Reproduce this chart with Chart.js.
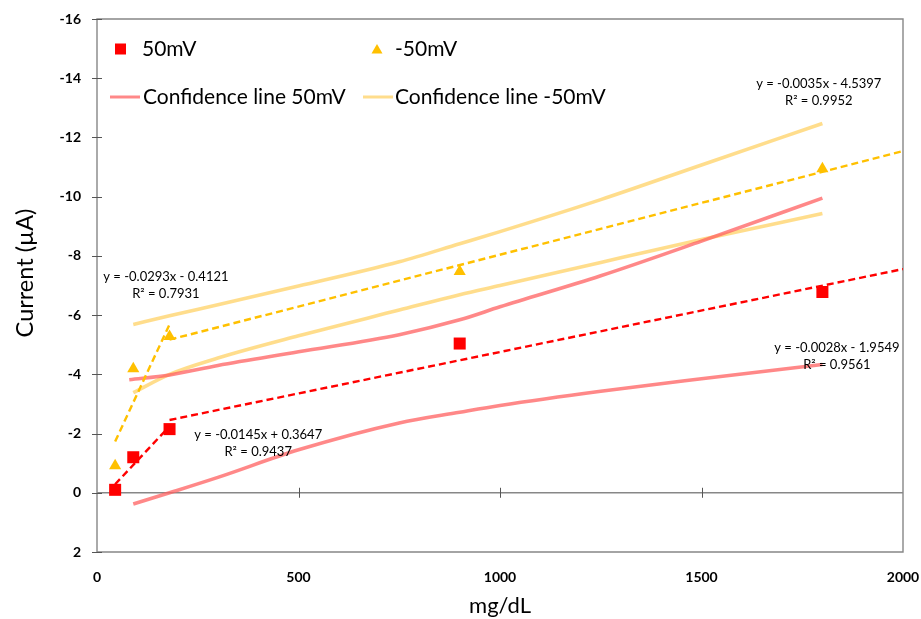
<!DOCTYPE html>
<html>
<head>
<meta charset="utf-8">
<title>Current vs concentration</title>
<script src="https://cdn.jsdelivr.net/npm/chart.js@4/dist/chart.umd.min.js"></script>
<style>
  html, body { margin: 0; padding: 0; background: #ffffff; }
  #wrap { width: 921px; height: 619px; }
</style>
</head>
<body>
<div id="wrap"><canvas id="chart" width="921" height="619"></canvas></div>
<script>
// Measured concentrations (mg/dL) and currents (µA)
const concentrations = [45, 90, 180, 900, 1800];
const current50mV = [-0.10, -1.20, -2.15, -5.04, -6.78];
const currentMinus50mV = [-0.91, -4.19, -5.28, -7.47, -10.94];

// Piecewise linear fits: [slope, intercept, R², x from, x to]
const fits50mV = [
  [-0.0145, 0.3647, 0.9437, 45, 180],
  [-0.0028, -1.9549, 0.9561, 180, 2000]
];
const fitsMinus50mV = [
  [-0.0293, -0.4121, 0.7931, 45, 180],
  [-0.0035, -4.5397, 0.9952, 180, 2000]
];

// Confidence bands
const bandX50Upper = [80, 180, 300, 500, 750, 900, 1000, 1250, 1500, 1800];
const band50Upper = [-3.82, -3.98, -4.30, -4.76, -5.34, -5.84, -6.28, -7.33, -8.50, -9.95];
const bandX50Lower = [90, 180, 300, 500, 750, 900, 1000, 1250, 1500, 1800];
const band50Lower = [0.38, 0.00, -0.52, -1.45, -2.36, -2.72, -2.95, -3.43, -3.85, -4.33];
const bandXm50 = [90, 180, 300, 500, 750, 900, 1000, 1250, 1500, 1800];
const bandM50Upper = [-5.68, -5.98, -6.35, -6.98, -7.80, -8.41, -8.82, -9.90, -11.07, -12.47];
const bandM50Lower = [-3.38, -4.00, -4.55, -5.30, -6.17, -6.69, -7.00, -7.78, -8.55, -9.43];

// Axis ticks
const xTicks = [0, 500, 1000, 1500, 2000];
const yTicks = [-16, -14, -12, -10, -8, -6, -4, -2, 0, 2];

const legendLabels = ['50mV', '-50mV', 'Confidence line 50mV', 'Confidence line -50mV'];
const xTitle = 'mg/dL';
const yTitle = 'Current (µA)';

const FONT = 'Lato, "Open Sans", sans-serif';
const RED = '#ff0000';
const GOLD = '#ffc000';
const PINK = 'rgba(255, 96, 96, 0.75)';
const SAND = 'rgba(255, 208, 96, 0.72)';
const FRAME = '#878787';

const pts = (xs, ys) => xs.map((x, i) => ({ x: x, y: ys[i] }));
const fitLine = f => [{ x: f[3], y: f[0] * f[3] + f[1] }, { x: f[4], y: f[0] * f[4] + f[1] }];
const fmt = (v, d) => (v < 0 ? '-' : '') + Math.abs(v).toFixed(d);
const eqText = f => 'y = ' + fmt(f[0], 4) + 'x ' + (f[1] < 0 ? '- ' : '+ ') + Math.abs(f[1]).toFixed(4);
const r2Text = f => 'R\u00b2 = ' + f[2].toFixed(4);

const trendStyle = color => ({
  showLine: true, borderColor: color, borderWidth: 2.4, borderDash: [7, 4],
  pointRadius: 0, fill: false, tension: 0
});
const bandStyle = color => ({
  showLine: true, borderColor: color, borderWidth: 3.6, pointRadius: 0,
  fill: false, cubicInterpolationMode: 'monotone'
});

const datasets = [
  { label: legendLabels[0], data: pts(concentrations, current50mV), pointStyle: 'rect',
    pointRadius: 8.5, backgroundColor: RED, borderColor: RED, pointBorderWidth: 0, showLine: false },
  { label: legendLabels[1], data: pts(concentrations, currentMinus50mV), pointStyle: 'triangle',
    pointRadius: 7, backgroundColor: GOLD, borderColor: GOLD, pointBorderWidth: 0, showLine: false },
  Object.assign({ label: 'fit50a', data: fitLine(fits50mV[0]) }, trendStyle(RED)),
  Object.assign({ label: 'fit50b', data: fitLine(fits50mV[1]) }, trendStyle(RED)),
  Object.assign({ label: 'fitm50a', data: fitLine(fitsMinus50mV[0]) }, trendStyle(GOLD)),
  Object.assign({ label: 'fitm50b', data: fitLine(fitsMinus50mV[1]) }, trendStyle(GOLD)),
  Object.assign({ label: legendLabels[2], data: pts(bandX50Upper, band50Upper) }, bandStyle(PINK)),
  Object.assign({ label: 'band50lo', data: pts(bandX50Lower, band50Lower) }, bandStyle(PINK)),
  Object.assign({ label: legendLabels[3], data: pts(bandXm50, bandM50Upper) }, bandStyle(SAND)),
  Object.assign({ label: 'bandm50lo', data: pts(bandXm50, bandM50Lower) }, bandStyle(SAND))
];

// Equation label anchors in data units (center of the "y = ..." line)
const eqPlacement = [
  { fit: fits50mV[0], x: 400, y: -1.95 },
  { fit: fits50mV[1], x: 1836, y: -4.91 },
  { fit: fitsMinus50mV[0], x: 171, y: -7.3 },
  { fit: fitsMinus50mV[1], x: 1791, y: -13.8 }
];

const framePlugin = {
  id: 'frame',
  beforeDatasetsDraw(chart) {
    const { ctx, chartArea: a, scales: { x, y } } = chart;
    ctx.save();
    ctx.strokeStyle = FRAME;
    ctx.lineWidth = 1.4;
    ctx.beginPath();
    ctx.moveTo(a.left, a.top); ctx.lineTo(a.right, a.top);
    ctx.lineTo(a.right, a.bottom); ctx.lineTo(a.left, a.bottom);
    ctx.closePath();
    ctx.stroke();
    // horizontal axis through zero
    const y0 = y.getPixelForValue(0);
    ctx.beginPath();
    ctx.moveTo(a.left, y0); ctx.lineTo(a.right, y0);
    ctx.stroke();
    // tick marks crossing the axes
    ctx.lineWidth = 1;
    ctx.strokeStyle = '#555';
    ctx.beginPath();
    yTicks.forEach(v => {
      const py = Math.round(y.getPixelForValue(v)) + 0.5;
      ctx.moveTo(a.left - 5, py); ctx.lineTo(a.left + 5, py);
    });
    xTicks.slice(1, -1).forEach(v => {
      const px = Math.round(x.getPixelForValue(v)) + 0.5;
      ctx.moveTo(px, y0 - 5); ctx.lineTo(px, y0 + 5);
    });
    ctx.stroke();
    ctx.restore();
  },
  afterDraw(chart) {
    const { ctx, chartArea: a, scales: { x, y } } = chart;
    ctx.save();
    // axis titles
    ctx.fillStyle = '#000';
    ctx.textAlign = 'center';
    ctx.textBaseline = 'middle';
    ctx.font = '22px ' + FONT;
    ctx.fillText(xTitle, (a.left + a.right) / 2, 606);
    ctx.save();
    ctx.font = '23.5px ' + FONT;
    ctx.translate(25, 273);
    ctx.rotate(-Math.PI / 2);
    ctx.fillText(yTitle, 0, 0);
    ctx.restore();

    // fit equations
    ctx.font = '13px ' + FONT;
    eqPlacement.forEach(e => {
      const px = x.getPixelForValue(e.x);
      const py = y.getPixelForValue(e.y);
      ctx.fillText(eqText(e.fit), px, py);
      ctx.fillText(r2Text(e.fit), px, py + 17);
    });

    // legend
    ctx.font = '21px ' + FONT;
    ctx.textAlign = 'left';
    const row1 = 49, row2 = 97;
    ctx.fillStyle = RED;
    ctx.fillRect(115, row1 - 5.5, 11, 11);
    ctx.fillStyle = '#000';
    ctx.fillText(legendLabels[0], 142, row1);
    ctx.fillStyle = GOLD;
    ctx.beginPath();
    ctx.moveTo(377, row1 - 5); ctx.lineTo(382.5, row1 + 4.5); ctx.lineTo(371.5, row1 + 4.5);
    ctx.closePath(); ctx.fill();
    ctx.fillStyle = '#000';
    ctx.fillText(legendLabels[1], 395, row1);
    ctx.lineWidth = 3;
    ctx.strokeStyle = PINK;
    ctx.beginPath(); ctx.moveTo(110, row2); ctx.lineTo(140, row2); ctx.stroke();
    ctx.fillText(legendLabels[2], 143, row2);
    ctx.strokeStyle = SAND;
    ctx.beginPath(); ctx.moveTo(363, row2); ctx.lineTo(393, row2); ctx.stroke();
    ctx.fillText(legendLabels[3], 395, row2);
    ctx.restore();
  }
};

new Chart(document.getElementById('chart'), {
  type: 'scatter',
  data: { datasets: datasets },
  options: {
    responsive: false,
    animation: false,
    devicePixelRatio: 1,
    layout: { padding: { top: 19, right: 18, bottom: 0, left: 0 } },
    scales: {
      x: {
        type: 'linear', min: 0, max: 2000,
        afterBuildTicks: s => { s.ticks = xTicks.map(v => ({ value: v })); },
        afterFit: s => { s.height = 67; s.paddingLeft = 0; s.paddingRight = 0; },
        ticks: { font: { family: FONT, size: 14, weight: 'bold' }, color: '#000', padding: 17,
                 callback: v => String(v) },
        grid: { display: false, drawTicks: false },
        border: { display: false }
      },
      y: {
        type: 'linear', min: -16, max: 2, reverse: true,
        afterBuildTicks: s => { s.ticks = yTicks.map(v => ({ value: v })); },
        afterFit: s => { s.width = 97; s.paddingTop = 0; s.paddingBottom = 0; },
        ticks: { font: { family: FONT, size: 14, weight: 'bold' }, color: '#000', padding: 16,
                 callback: v => String(v) },
        grid: { display: false, drawTicks: false },
        border: { display: false }
      }
    },
    plugins: { legend: { display: false }, tooltip: { enabled: false } }
  },
  plugins: [framePlugin]
});
</script>
</body>
</html>
